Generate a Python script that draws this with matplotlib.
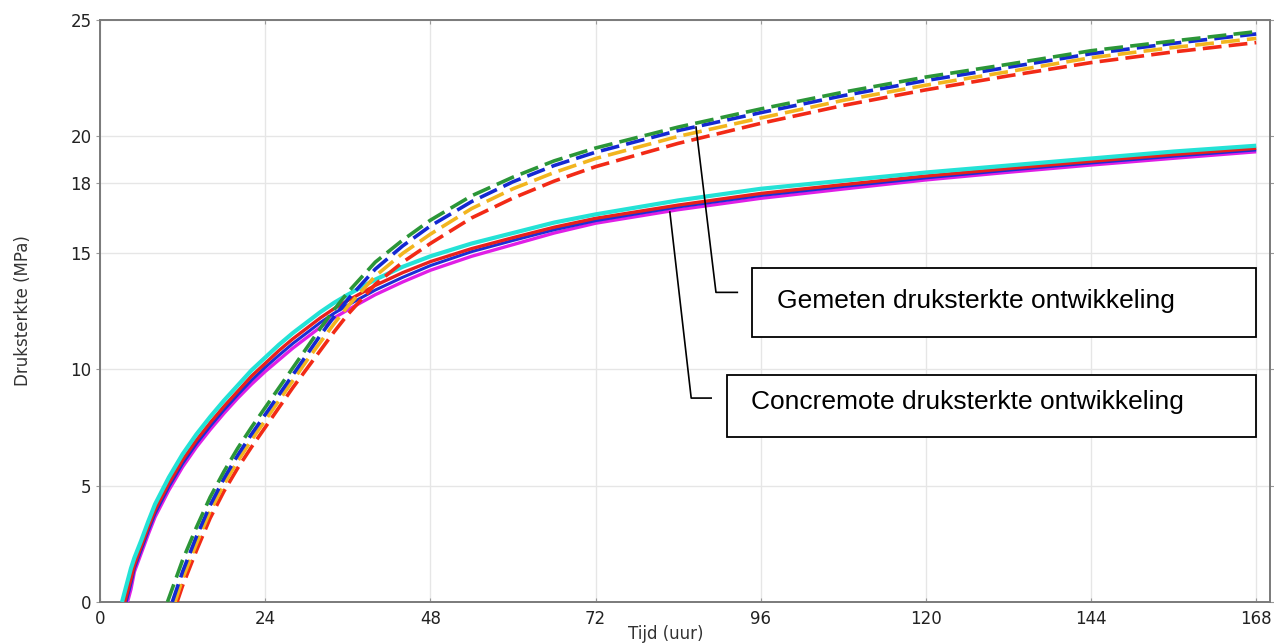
import matplotlib
matplotlib.use("Agg")
import matplotlib.pyplot as plt

# Time axis (hours) and tick values
x_ticks = [0, 24, 48, 72, 96, 120, 144, 168]
y_ticks = [0, 5, 10, 15, 18, 20, 25]

# Concremote (solid) curves: onset time (strength 0) followed by a shared time grid
solid_times = [4.5, 5, 6, 7, 8, 10, 12, 14, 16, 18, 20, 22, 24, 26, 28, 30, 32, 34, 36,
               40, 44, 48, 54, 60, 66, 72, 84, 96, 108, 120, 132, 144, 156, 168]
solid_onset = {"cyan": 3.2, "red": 3.6, "blue": 3.8, "magenta": 4.0}
solid_cyan = [1.45, 1.9, 2.65, 3.45, 4.2, 5.35, 6.35, 7.2, 7.95, 8.65, 9.3, 9.95, 10.5,
              11.05, 11.55, 12.0, 12.45, 12.85, 13.2, 13.85, 14.4, 14.85, 15.4, 15.85,
              16.3, 16.65, 17.25, 17.75, 18.1, 18.45, 18.75, 19.05, 19.35, 19.6]
solid_red = [1.0, 1.6, 2.4, 3.2, 3.95, 5.1, 6.1, 6.95, 7.7, 8.4, 9.05, 9.7, 10.25,
             10.8, 11.3, 11.75, 12.2, 12.6, 12.95, 13.6, 14.15, 14.62, 15.18, 15.65,
             16.1, 16.48, 17.05, 17.55, 17.93, 18.3, 18.62, 18.93, 19.22, 19.49]
solid_blue = [0.8, 1.45, 2.25, 3.05, 3.8, 4.95, 5.95, 6.8, 7.55, 8.25, 8.9, 9.52, 10.08,
              10.6, 11.1, 11.55, 12.0, 12.4, 12.75, 13.4, 13.95, 14.45, 15.05, 15.53,
              15.99, 16.38, 16.97, 17.46, 17.85, 18.22, 18.55, 18.86, 19.15, 19.42]
solid_magenta = [0.55, 1.3, 2.1, 2.9, 3.65, 4.8, 5.8, 6.65, 7.4, 8.1, 8.75, 9.35, 9.9,
                 10.4, 10.9, 11.35, 11.8, 12.2, 12.55, 13.2, 13.75, 14.25, 14.85, 15.35,
                 15.85, 16.27, 16.85, 17.34, 17.74, 18.13, 18.46, 18.77, 19.06, 19.34]

# Measured (dashed) curves
dashed_times = [12, 14, 16, 18, 20, 22, 24, 26, 28, 30, 32, 34, 36, 40, 44, 48,
                54, 60, 66, 72, 84, 96, 108, 120, 132, 144, 156, 168]
dashed_onset = {"green": 9.8, "blue": 10.5, "orange": 10.9, "red": 11.2}
dashed_green = [1.8, 3.2, 4.5, 5.6, 6.6, 7.5, 8.35, 9.2, 10.05, 10.9, 11.75, 12.55,
                13.3, 14.6, 15.55, 16.4, 17.45, 18.25, 18.95, 19.5, 20.4, 21.18,
                21.9, 22.55, 23.1, 23.68, 24.1, 24.5]
dashed_blue = [1.3, 2.8, 4.15, 5.3, 6.3, 7.2, 8.05, 8.9, 9.75, 10.6, 11.45, 12.25,
               13.0, 14.3, 15.3, 16.15, 17.2, 18.05, 18.75, 19.32, 20.25, 21.02,
               21.75, 22.4, 22.97, 23.55, 24.0, 24.4]
dashed_orange = [1.0, 2.5, 3.9, 5.05, 6.05, 6.95, 7.8, 8.65, 9.5, 10.35, 11.15, 11.95,
                 12.7, 14.0, 14.98, 15.8, 16.9, 17.75, 18.45, 19.05, 20.0, 20.79,
                 21.55, 22.2, 22.78, 23.38, 23.82, 24.21]
dashed_red = [0.7, 2.2, 3.6, 4.75, 5.75, 6.65, 7.5, 8.35, 9.2, 10.0, 10.8, 11.6,
              12.35, 13.65, 14.6, 15.4, 16.5, 17.35, 18.08, 18.7, 19.7, 20.56,
              21.33, 22.0, 22.6, 23.17, 23.63, 24.03]

solid_series = [
    ("magenta", solid_magenta, "#e01ee6", 2.4),
    ("blue", solid_blue, "#1a2fd6", 2.2),
    ("red", solid_red, "#e8201c", 2.4),
    ("cyan", solid_cyan, "#24e2d6", 3.0),
]
dashed_series = [
    ("red", dashed_red, "#f22a16"),
    ("orange", dashed_orange, "#f2b51e"),
    ("blue", dashed_blue, "#1428d2"),
    ("green", dashed_green, "#2b9638"),
]

fig = plt.figure(figsize=(12.74, 6.44), dpi=100)
ax = fig.add_axes([100 / 1274, 42 / 644, 1170 / 1274, 582 / 644])

for key, vals, color, lw in solid_series:
    xs = [solid_onset[key]] + solid_times
    ys = [0.0] + vals
    ax.plot(xs, ys, color=color, lw=lw, solid_capstyle="butt", zorder=3)

for key, vals, color in dashed_series:
    xs = [dashed_onset[key]] + dashed_times
    ys = [0.0] + vals
    ax.plot(xs, ys, color=color, lw=2.6, linestyle=(0, (5.2, 2.0)),
            dash_capstyle="butt", zorder=4)

ax.set_xlim(0, 170)
ax.set_ylim(0, 25)
ax.set_xticks(x_ticks)
ax.set_yticks(y_ticks)
ax.grid(True, color="#e6e6e6", lw=1.0, zorder=0)
ax.set_axisbelow(True)

for sp in ax.spines.values():
    sp.set_color("#7a7a7a")
    sp.set_linewidth(1.4)

ax.tick_params(axis="x", direction="in", length=3, color="#999999",
               top=True, labelsize=12, labelcolor="#222222", pad=6)
ax.tick_params(axis="y", direction="out", length=3, color="#999999",
               right=True, labelsize=12, labelcolor="#222222", pad=3)

ax.set_xlabel("Tijd (uur)", fontsize=12, color="#333333")
ax.xaxis.set_label_coords((666 - 100) / 1170, -0.040)
ax.set_ylabel("Druksterkte (MPa)", fontsize=12, color="#333333")
ax.yaxis.set_label_coords(-0.058, 0.5)

# Annotation boxes with leader lines
box_font = dict(family=["Liberation Sans", "DejaVu Sans"], fontsize=19, color="black")
ax.add_patch(plt.Rectangle((94.8, 11.38), 168.0 - 94.8, 14.35 - 11.38, fill=True,
                           facecolor="white", edgecolor="black", lw=1.3, zorder=6,
                           clip_on=False))
ax.text(98.3, 12.95, "Gemeten druksterkte ontwikkeling", va="center", ha="left",
        zorder=7, **box_font)
ax.add_patch(plt.Rectangle((91.1, 7.09), 168.0 - 91.1, 9.75 - 7.09, fill=True,
                           facecolor="white", edgecolor="black", lw=1.3, zorder=6,
                           clip_on=False))
ax.text(94.6, 8.6, "Concremote druksterkte ontwikkeling", va="center", ha="left",
        zorder=7, **box_font)

ax.plot([86.6, 89.5, 92.6], [20.4, 13.3, 13.3], color="black", lw=1.2, zorder=6)
ax.plot([82.8, 85.9, 88.8], [16.75, 8.76, 8.76], color="black", lw=1.2, zorder=6)

fig.savefig("out.png", dpi=100, facecolor="white")
